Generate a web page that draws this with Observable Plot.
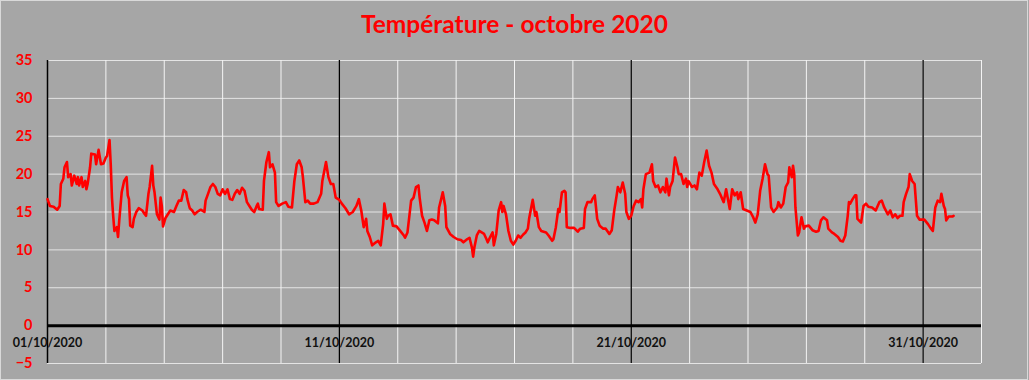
<!DOCTYPE html>
<html><head><meta charset="utf-8">
<script src="https://cdn.jsdelivr.net/npm/d3@7"></script>
<script src="https://cdn.jsdelivr.net/npm/@observablehq/plot@0.6"></script>
<style>
html,body{margin:0;padding:0;background:#a6a6a6;}
#wrap{position:relative;width:1029px;height:380px;background:#a6a6a6;overflow:hidden;}
#title{height:45px;box-sizing:border-box;padding-top:11px;text-align:center;font-family:Lato,sans-serif;font-weight:bold;font-size:24.5px;color:#ff0000;line-height:26px;}
#frame{position:absolute;left:0;top:0;width:1028px;height:380px;box-sizing:border-box;border:1px solid #d9d9d9;pointer-events:none;}
</style></head><body>
<div id="wrap"><div id="title">Température - octobre 2020</div><div id="chart"></div><div id="frame"></div></div>
<script>
// hours since 01/10/2020 00:00
const hours = [0,2,5,8,10,11,13,14,16,17,19,20,22,24,25,26,28,29,31,32,33,35,36,39,40,42,44,46,48,49,51,52,53,54,55,57,58,59,61,63,65,66,67,68,70,71,73,75,78,80,81,83,84,86,87,88,90,92,93,94,95,97,99,101,104,106,108,110,112,114,115,117,119,121,123,126,129,130,132,134,136,138,140,142,144,146,148,150,152,154,156,158,160,162,164,166,168,170,172,173,174,177,178,180,182,183,185,187,188,190,193,196,198,201,203,205,207,209,210,212,214,216,219,222,225,226,229,231,233,235,237,240,242,245,248,251,254,256,258,260,262,263,265,267,270,272,274,276,277,279,280,282,284,287,290,293,294,296,299,301,303,305,306,308,310,312,314,316,318,321,322,324,325,327,328,331,334,337,340,342,345,347,349,350,351,353,355,357,359,361,362,364,366,367,369,371,373,374,375,377,379,381,383,385,387,389,391,393,395,396,398,399,401,402,404,406,410,412,415,416,418,420,421,423,425,426,427,430,433,436,438,441,442,444,447,448,450,452,454,457,459,462,464,466,468,469,471,473,475,476,478,480,482,484,486,488,489,490,492,495,497,498,500,502,504,506,508,509,511,512,514,516,518,519,521,523,525,526,527,530,532,534,536,538,540,542,544,546,548,551,553,556,558,561,563,565,567,568,570,572,575,578,580,582,584,586,588,590,592,593,595,597,600,601,603,605,607,609,610,612,613,614,615,617,618,620,622,623,626,629,632,634,636,638,641,642,645,647,650,652,654,656,658,659,660,662,664,665,666,669,671,673,675,678,681,684,686,688,691,693,695,697,699,701,703,704,706,708,709,711,713,715,717,721,724,726,728,730,732,734,735,737,738,739,741,744,745];
const temps = [16.7,15.8,15.7,15.3,15.8,18.7,19.4,20.9,21.6,19.6,20.0,18.5,19.8,18.7,19.6,18.5,19.6,18.3,19.1,18.0,18.7,20.9,22.7,22.6,21.3,23.2,21.3,21.4,22.2,22.4,24.5,21.3,16.9,14.5,12.5,13.0,11.7,13.9,17.6,19.1,19.6,17.2,16.7,13.2,13.0,14.1,15.0,15.5,15.2,14.7,14.5,17.4,18.3,21.1,18.5,17.6,14.7,14.0,16.9,15.8,13.1,14.2,14.7,15.2,15.0,15.8,16.5,16.5,17.9,17.6,16.7,15.5,15.2,14.7,15.0,15.3,15.0,16.5,17.4,18.3,18.7,18.3,17.4,17.2,18.0,17.4,18.0,16.7,16.6,17.4,17.9,17.4,18.2,17.8,16.3,15.8,15.3,15.0,15.8,16.1,15.4,15.3,19.1,21.6,22.9,20.9,21.3,20.2,16.3,15.8,16.1,16.3,15.7,15.6,19.1,21.3,21.8,20.9,19.6,16.3,16.5,16.1,16.1,16.3,17.4,19.1,21.6,19.6,18.7,18.7,16.9,16.6,16.1,15.5,14.7,15.0,15.8,16.7,15.2,13.0,14.1,12.5,11.7,10.6,11.0,11.2,10.6,13.4,16.1,14.1,14.5,14.7,13.2,13.1,12.5,11.9,11.6,12.3,16.5,16.9,18.3,18.5,16.9,14.5,13.6,12.5,13.9,14.0,13.9,13.5,15.6,16.9,17.6,15.8,13.0,12.1,11.7,11.4,11.3,11.0,11.4,11.6,10.3,9.1,10.3,11.9,12.5,12.3,12.1,11.4,11.0,11.7,12.3,10.6,12.1,15.2,16.3,15.0,15.8,14.7,12.5,11.2,10.7,11.2,11.9,11.6,12.0,12.3,12.8,14.1,15.8,16.6,14.5,15.0,13.0,12.5,12.3,11.9,11.2,11.4,13.0,15.4,15.0,17.6,17.8,17.6,13.0,12.9,12.9,12.4,12.8,12.9,15.4,16.3,16.3,16.7,17.2,14.1,13.2,12.8,12.8,12.1,12.6,15.2,17.2,18.3,17.6,18.9,17.4,15.0,14.1,14.5,15.8,16.5,16.3,16.7,15.6,18.0,20.0,20.2,21.3,19.1,18.3,18.5,17.6,18.3,17.6,19.4,17.2,18.3,19.1,22.2,20.9,20.0,20.0,18.7,19.4,18.3,19.1,18.3,18.5,18.0,20.2,19.8,21.6,23.1,21.1,20.2,18.7,18.0,17.4,16.3,18.0,15.4,18.0,17.2,17.6,16.7,17.6,15.4,15.2,15.0,14.4,13.6,14.7,17.8,19.4,21.3,20.0,19.8,15.6,15.0,15.6,16.3,15.6,16.1,18.3,18.9,20.9,19.6,21.1,20.0,15.6,11.9,12.3,14.3,12.8,13.1,13.2,12.6,12.4,12.5,13.9,14.3,13.9,12.8,12.3,12.1,11.7,11.2,11.1,11.9,14.5,16.3,16.1,16.7,17.2,17.2,14.1,13.6,15.8,16.1,15.7,15.6,15.2,16.3,16.5,15.6,14.7,15.2,14.3,14.7,14.2,14.5,14.5,16.3,17.4,18.3,20.0,19.1,18.7,14.5,14.0,14.0,13.4,12.9,12.5,15.6,16.5,16.3,17.4,15.8,15.4,13.9,14.4,14.4,14.5];
const yTicks = [-5,0,5,10,15,20,25,30,35];
const labelDays = [0,10,20,30];
const dateLabels = ["01/10/2020","11/10/2020","21/10/2020","31/10/2020"];

const start = Date.UTC(2020,9,1);
const DAY = 864e5;
const data = hours.map((h,i)=>({date:new Date(start+h*36e5), temp:temps[i]}));
const labels = labelDays.map((d,i)=>({date:new Date(start+d*DAY), y:0, text:dateLabels[i]}));
const gridDays = d3.range(0,33,2).map(d=>new Date(start+d*DAY));
const blackDays = [10,20,30].map(d=>new Date(start+d*DAY));

const chart = Plot.plot({
  width:1029, height:335,
  marginLeft:47, marginRight:48, marginTop:15, marginBottom:17,
  style:{background:"transparent", fontFamily:"Lato, sans-serif", overflow:"visible"},
  x:{type:"utc", domain:[new Date(start), new Date(start+32*DAY)], axis:null},
  y:{domain:[-5,35]},
  marks:[
    Plot.gridY(yTicks,{stroke:"#e4e4e4", strokeOpacity:1}),
    Plot.ruleX(gridDays,{stroke:"#f4f4f4", strokeWidth:1}),
    Plot.ruleX(blackDays,{stroke:"#000", strokeWidth:1.3}),
    Plot.ruleX([new Date(start)],{stroke:"#000", strokeWidth:1.5}),
    Plot.ruleY([0],{stroke:"#000", strokeWidth:3}),
    Plot.line(data,{x:"date", y:"temp", stroke:"#ff0000", strokeWidth:2.6}),
    Plot.axisY(yTicks,{tickSize:0, tickPadding:15, fill:"#ff0000", fontWeight:"bold", fontSize:14.5, label:null}),
    Plot.text(labels,{x:"date", y:"y", dy:17, text:"text", fill:"#111", fontWeight:"bold", fontSize:12.5})
  ]
});
document.getElementById("chart").appendChild(chart);
</script>
</body></html>
